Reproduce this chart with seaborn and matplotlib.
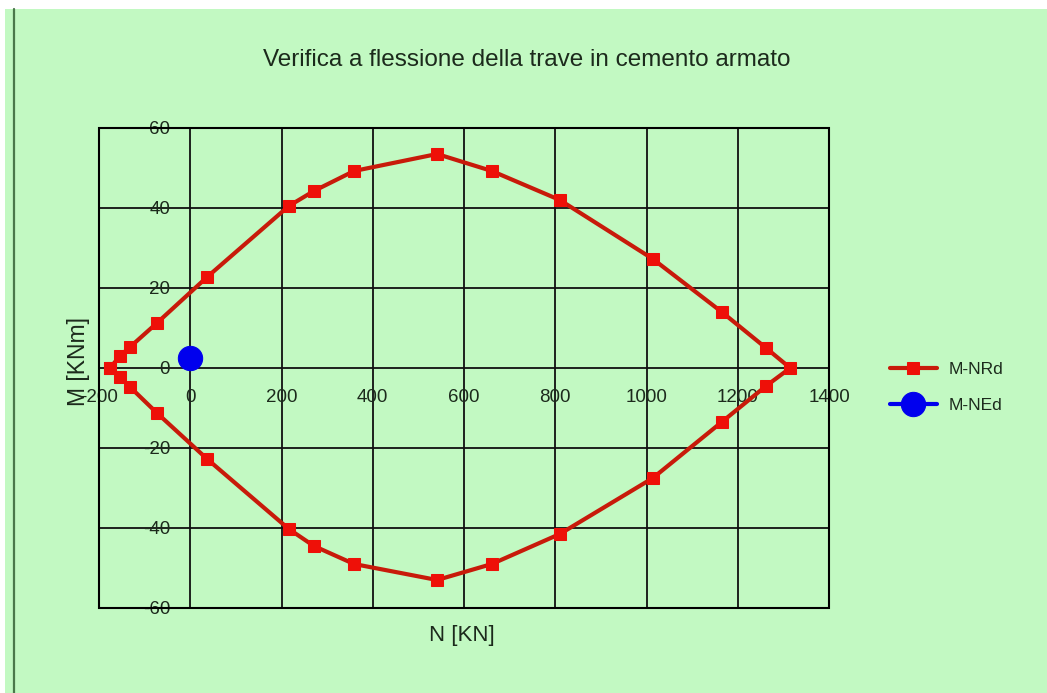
import matplotlib
matplotlib.use("Agg")
import matplotlib.pyplot as plt
import seaborn as sns
import pandas as pd
from matplotlib.patches import Rectangle
from matplotlib.lines import Line2D

title = "Verifica a flessione della trave in cemento armato"
x_label = "N [KN]"
y_label = "M [KNm]"

# Resisting M-N domain: upper branch (left tip -> right tip)
n_rd_upper = [-176, -154, -132, -73, 37, 216, 271, 359, 541, 661, 810, 1014, 1165, 1262, 1315]
m_rd_upper = [0, 3, 5.25, 11.25, 22.75, 40.5, 44.25, 49.25, 53.5, 49.25, 42, 27.25, 14, 5, 0]
# lower branch (right tip -> back to left tip)
n_rd_lower = [1262, 1165, 1014, 810, 661, 541, 359, 271, 216, 37, -73, -132, -154, -176]
m_rd_lower = [-4.5, -13.5, -27.5, -41.5, -49, -53, -49, -44.5, -40.25, -22.75, -11.25, -4.75, -2.25, 0]

# Design action
n_ed = [0]
m_ed = [2.5]

x_ticks = [-200, 0, 200, 400, 600, 800, 1000, 1200, 1400]
x_tick_labels = ["-200", "0", "200", "400", "600", "800", "1000", "1200", "1400"]
y_ticks = [-60, -40, -20, 0, 20, 40, 60]
y_tick_labels = ["-60", "-40", "-20", "0", "20", "40", "60"]

BG = "#C2F9C2"
TXT = "#1c2a1c"
RED_LINE = "#C81A0A"
RED_MARK = "#EE1008"
BLUE = "#0000EE"

sns.set_style("white")
plt.rcParams["font.family"] = ["Liberation Sans", "DejaVu Sans"]

W, H = 1047, 693
fig = plt.figure(figsize=(W / 100, H / 100), dpi=100)
fig.patch.set_facecolor("white")
fig.add_artist(Rectangle((5 / W, 0), 1, (H - 9) / H, transform=fig.transFigure,
                         facecolor=BG, edgecolor="none", zorder=-10))
fig.add_artist(Line2D([13.5 / W, 13.5 / W], [0, (H - 9) / H], transform=fig.transFigure,
                      color="#4a784a", lw=1.6, zorder=-5))

ax = fig.add_axes([99 / W, (H - 608) / H, 730 / W, 480 / H])
ax.set_facecolor(BG)

df_rd = pd.DataFrame({"N": n_rd_upper + n_rd_lower, "M": m_rd_upper + m_rd_lower})
df_ed = pd.DataFrame({"N": n_ed, "M": m_ed})

sns.lineplot(data=df_rd, x="N", y="M", sort=False, estimator=None, ax=ax,
             color=RED_LINE, lw=3.0, marker="s", markersize=8.5,
             markerfacecolor=RED_MARK, markeredgecolor=RED_MARK,
             label="M-NRd", zorder=4)
sns.lineplot(data=df_ed, x="N", y="M", sort=False, estimator=None, ax=ax,
             color=BLUE, lw=3.0, marker="o", markersize=17.5,
             markerfacecolor=BLUE, markeredgecolor=BLUE,
             label="M-NEd", zorder=5)

ax.set_xlim(-200, 1400)
ax.set_ylim(-60, 60)
ax.set_xticks(x_ticks, x_tick_labels)
ax.set_yticks(y_ticks, y_tick_labels)

# tick labels sit on the zero lines, axes cross at the origin
ax.spines["bottom"].set_position(("data", 0))
ax.spines["left"].set_position(("data", 0))
for s in ax.spines.values():
    s.set_visible(False)
ax.add_patch(Rectangle((0, 0), 1, 1, transform=ax.transAxes, fill=False,
                       edgecolor="black", lw=1.5, zorder=3, clip_on=False))

ax.grid(True, color="#101010", lw=1.3)
ax.set_axisbelow(True)
ax.tick_params(axis="x", length=0, pad=15.0, labelsize=13.5, labelcolor=TXT)
ax.tick_params(axis="y", length=0, pad=14.5, labelsize=13.5, labelcolor=TXT)

ax.set_xlabel(x_label, fontsize=16, color=TXT)
ax.xaxis.set_label_coords((462 - 99) / 730, (608 - 635) / 480)
ax.xaxis.label.set_va("center")
ax.set_ylabel(y_label, fontsize=16.5, color=TXT)
ax.yaxis.set_label_coords((79 - 99) / 730, (608 - 362) / 480)
ax.yaxis.label.set_va("center")

fig.text(0.503, (H - 60) / H, title, ha="center", va="center", fontsize=17.5, color=TXT)

leg = ax.legend(loc="upper left", bbox_to_anchor=(890 / W, (H - 362) / H),
                bbox_transform=fig.transFigure, frameon=False, fontsize=12.5,
                borderpad=0, borderaxespad=0, handlelength=2.7,
                handletextpad=0.65, labelspacing=1.17)
for t in leg.get_texts():
    t.set_color(TXT)

fig.savefig("out.png", dpi=100, facecolor=fig.get_facecolor())
